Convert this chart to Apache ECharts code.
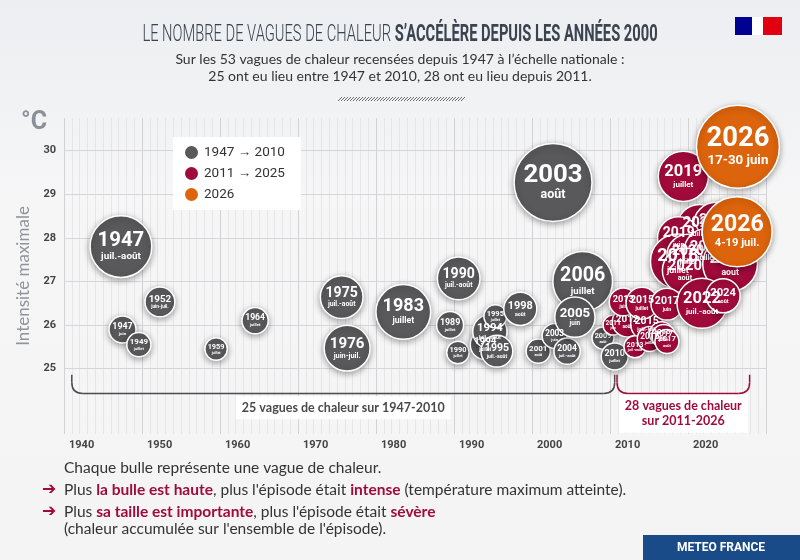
<!DOCTYPE html>
<html>
<head>
<meta charset="UTF-8">
<title>Vagues de chaleur</title>
<style type="text/css">
	* {
		margin: 0;
		padding: 0;
	}
	#chart {
		width: 800px;
		height: 560px;
	}
</style>
</head>
<body>
<div id="chart"></div>
<script src="https://cdn.jsdelivr.net/npm/echarts@6/dist/echarts.min.js"></script>
<script type="text/javascript">
	// graduations de l'axe des températures
	var yTicks = [25, 26, 27, 28, 29, 30];

	// vagues 1947 -> 2010
	var greyYear = ['1947', '1947', '1949', '1952', '1959', '1964', '1975', '1976', '1983', '1989', '1990', '1990', '1994', '1994', '1995', '1998', '1995', '2001', '2003', '2004', '2006', '2005', '2003', '2009', '2010'];
	var greyPeriod = ['juil.-août', 'juin', 'juillet', 'juin-juil.', 'juillet', 'juillet', 'juil.-août', 'juin-juil.', 'juillet', 'juillet', 'juil.-août', 'juillet', 'juillet', 'juil.-août', 'juillet', 'août', 'juil.-août', 'août', 'juin', 'juil.-août', 'juillet', 'juin', 'août', 'août', 'juillet'];
	var greyDate = [1947.3, 1947.5, 1949.6, 1952.3, 1959.5, 1964.5, 1975.6, 1976.3, 1983.5, 1989.5, 1990.6, 1990.5, 1994.0, 1994.6, 1995.3, 1998.5, 1995.5, 2000.8, 2002.9, 2004.5, 2006.5, 2005.5, 2002.7, 2009.1, 2010.6];
	var greyTemp = [27.8, 25.9, 25.55, 26.53, 25.45, 26.1, 26.64, 25.47, 26.3, 26.0, 27.07, 25.37, 25.55, 25.85, 26.2, 26.37, 25.4, 25.4, 25.75, 25.4, 27.0, 26.18, 29.27, 25.7, 25.28];
	var greySeverity = [47, 9, 7.2, 11, 6.2, 8.5, 22.5, 26, 37, 9, 22.5, 6.2, 11, 14.5, 6.5, 13.5, 12.5, 7.2, 7.7, 8.5, 44, 20, 75, 6, 9];

	// vagues 2011 -> 2025
	var redYear = ['2019', '2025', '2022', '2024', '2019', '2018', '2020', '2023', '2020', '2023', '2011', '2012', '2015', '2013', '2015', '2017', '2022', '2024', '2013', '2016', '2016', '2017', '2017'];
	var redPeriod = ['juillet', 'août', 'juillet', 'juillet', 'juin', 'juillet', 'juillet', 'juillet', 'août', 'aout', 'juin', 'août', 'juin-juil.', 'juin', 'juillet', 'juin', 'juil.-août', 'août', 'juil.-août', 'juillet', 'août', 'juillet', 'août'];
	var redDate = [2019.4, 2025.6, 2021.5, 2023.6, 2018.8, 2018.7, 2020.0, 2022.4, 2019.6, 2025.4, 2010.4, 2012.2, 2014.7, 2011.7, 2014.1, 2017.3, 2021.8, 2024.5, 2013.2, 2015.1, 2016.6, 2016.9, 2017.3];
	var redTemp = [29.41, 28.0, 28.25, 28.3, 28.0, 27.46, 27.6, 27.7, 27.25, 27.4, 26.0, 26.07, 26.02, 26.53, 26.5, 26.48, 26.5, 26.67, 25.5, 25.68, 25.8, 25.74, 25.62];
	var redSeverity = [31, 28, 25, 25, 22, 37, 22, 25, 25, 37, 5, 11, 12.6, 9.7, 12.6, 12.6, 31, 14.3, 6, 7.7, 7.1, 7.1, 7.1];

	// vagues 2026
	var orangeYear = ['2026', '2026'];
	var orangePeriod = ['17-30 juin', '4-19 juil.'];
	var orangeDate = [2026.4, 2026.3];
	var orangeTemp = [30.09, 28.14];
	var orangeSeverity = [85, 60.5];

	var groupNames = ['1947 → 2010', '2011 → 2025', '2026'];
	var groupColors = ['#59595b', '#a10b3c', '#dc640c'];

	var RED = '#a10b3c';

	function bubbleSize(sev) {
		return Math.sqrt(sev) * 9;
	}

	function buildItems(years, periods, dates, temps, sev) {
		var items = [];
		for(var i = 0; i < years.length; i++) {
			var d = bubbleSize(sev[i]);
			var fy = Math.max(4, d * 0.33);
			var fp = Math.max(3, d * 0.16);
			items.push({
				value: [dates[i], temps[i], sev[i]],
				symbolSize: d,
				label: {
					formatter: '{y|' + years[i] + '}\n{p|' + periods[i] + '}',
					rich: {
						y: {
							fontSize: fy,
							lineHeight: fy * 1.0,
							fontWeight: 'bold',
							color: '#fff',
							fontFamily: 'Roboto'
						},
						p: {
							fontSize: fp,
							lineHeight: fp * 1.15,
							fontWeight: 'bold',
							color: '#fff',
							fontFamily: 'Roboto'
						}
					}
				}
			});
		}
		return items;
	}

	function bubbleSeries(idx, items) {
		return {
			name: groupNames[idx],
			type: 'scatter',
			z: 2 + idx,
			data: items,
			itemStyle: {
				color: groupColors[idx],
				borderColor: '#fff',
				borderWidth: 1.5,
				shadowBlur: 6,
				shadowOffsetY: 2,
				shadowColor: 'rgba(0,0,0,0.35)',
				opacity: 1
			},
			label: {
				show: true,
				position: 'inside'
			},
			emphasis: {
				disabled: true
			}
		};
	}

	var chart = echarts.init(document.getElementById('chart'));

	chart.setOption({
		animation: false,
		backgroundColor: {
			type: 'linear',
			x: 0, y: 0, x2: 0, y2: 1,
			colorStops: [
				{offset: 0, color: '#eceef1'},
				{offset: 0.35, color: '#f6f6f7'},
				{offset: 1, color: '#f4f4f5'}
			]
		},
		grid: {
			left: 64,
			right: 34,
			top: 118,
			bottom: 126
		},
		legend: {
			data: groupNames,
			left: 173,
			top: 137,
			z: 20,
			orient: 'vertical',
			backgroundColor: '#fff',
			padding: [7, 16, 7, 10],
			itemGap: 4,
			itemWidth: 15,
			itemHeight: 15,
			icon: 'circle',
			selectedMode: false,
			textStyle: {
				fontSize: 13.5,
				color: '#333',
				fontFamily: 'Roboto'
			}
		},
		xAxis: {
			type: 'value',
			min: 1940,
			max: 2030,
			interval: 10,
			axisLine: {show: false},
			axisTick: {show: false},
			axisLabel: {
				align: 'left',
				padding: [0, 0, 0, 5],
				margin: 6,
				color: '#444',
				fontSize: 11,
				fontWeight: 'bold',
				fontFamily: 'Roboto',
				formatter: function(v) {
					return v < 2030 ? String(v) : '';
				}
			},
			splitLine: {
				show: true,
				lineStyle: {color: '#d2d2d4', width: 1}
			},
			minorTick: {show: false, splitNumber: 10},
			minorSplitLine: {
				show: true,
				lineStyle: {color: '#e6e6e8', width: 1}
			}
		},
		yAxis: {
			type: 'value',
			min: 23.5,
			max: 30.75,
			interval: 0.25,
			name: 'Intensité maximale',
			nameLocation: 'middle',
			nameGap: 31,
			nameTextStyle: {
				fontSize: 17,
				color: '#8e949a',
				fontFamily: 'Lato'
			},
			axisLine: {show: false},
			axisTick: {show: false},
			splitLine: {show: false},
			axisLabel: {
				margin: 8,
				color: '#444',
				fontSize: 11,
				fontWeight: 'bold',
				fontFamily: 'Roboto',
				formatter: function(v) {
					return yTicks.indexOf(v) >= 0 ? String(v) : '';
				}
			}
		},
		series: [
			{
				type: 'line',
				data: [],
				z: 1,
				silent: true,
				markLine: {
					z: 1,
					silent: true,
					symbol: ['none', 'none'],
					label: {show: false},
					lineStyle: {color: '#d6d6d8', type: 'solid', width: 1},
					data: yTicks.map(function(v) {
						return {yAxis: v};
					})
				}
			},
			bubbleSeries(0, buildItems(greyYear, greyPeriod, greyDate, greyTemp, greySeverity)),
			bubbleSeries(1, buildItems(redYear, redPeriod, redDate, redTemp, redSeverity)),
			bubbleSeries(2, buildItems(orangeYear, orangePeriod, orangeDate, orangeTemp, orangeSeverity))
		]
	});

	// accolades sous le graphique
	var brackets = [
		{from: 1941, to: 2010.6, color: '#4a4a4c', text: '25 vagues de chaleur sur 1947-2010'},
		{from: 2010.9, to: 2027.9, color: RED, text: '28 vagues de chaleur\nsur 2011-2026'}
	];
	var bracketTop = 24.86,
		bracketBottom = 24.43,
		bracketText = 24.1;

	var graphics = [];

	brackets.forEach(function(b) {
		var p1 = chart.convertToPixel({gridIndex: 0}, [b.from, bracketTop]);
		var p2 = chart.convertToPixel({gridIndex: 0}, [b.to, bracketBottom]);
		var pt = chart.convertToPixel({gridIndex: 0}, [(b.from + b.to) / 2, bracketText]);
		var r = 11;
		var ls = {stroke: b.color, lineWidth: 1.5, fill: null};
		graphics.push({type: 'line', shape: {x1: p1[0], y1: p1[1], x2: p1[0], y2: p2[1] - r}, style: ls, z: 10});
		graphics.push({type: 'bezierCurve', shape: {x1: p1[0], y1: p2[1] - r, cpx1: p1[0], cpy1: p2[1], x2: p1[0] + r, y2: p2[1]}, style: ls, z: 10});
		graphics.push({type: 'line', shape: {x1: p1[0] + r, y1: p2[1], x2: p2[0] - r, y2: p2[1]}, style: ls, z: 10});
		graphics.push({type: 'bezierCurve', shape: {x1: p2[0] - r, y1: p2[1], cpx1: p2[0], cpy1: p2[1], x2: p2[0], y2: p2[1] - r}, style: ls, z: 10});
		graphics.push({type: 'line', shape: {x1: p2[0], y1: p2[1] - r, x2: p2[0], y2: p1[1]}, style: ls, z: 10});
		graphics.push({
			type: 'text',
			x: pt[0],
			y: pt[1] + (b.text.indexOf('\n') >= 0 ? 6 : 0),
			z: 10,
			style: {
				text: b.text,
				align: 'center',
				verticalAlign: 'middle',
				fill: b.color,
				font: 'bold 12.5px Lato',
				lineHeight: 15,
				backgroundColor: '#fff',
				padding: [4, 6]
			}
		});
	});

	// titre
	graphics.push({
		type: 'text',
		x: 400,
		y: 35,
		scaleX: 0.7,
		scaleY: 1.12,
		style: {
			text: '{a|LE NOMBRE DE VAGUES DE CHALEUR }{b|S’ACCÉLÈRE DEPUIS LES ANNÉES 2000}',
			align: 'center',
			verticalAlign: 'middle',
			rich: {
				a: {fontSize: 21, fontFamily: 'Roboto', fontWeight: 300, fill: '#3a4350'},
				b: {fontSize: 21, fontFamily: 'Roboto', fontWeight: 'bold', fill: '#3a4350'}
			}
		}
	});
	graphics.push({
		type: 'text',
		x: 400,
		y: 68,
		style: {
			text: 'Sur les 53 vagues de chaleur recensées depuis 1947 à l’échelle nationale :\n25 ont eu lieu entre 1947 et 2010, 28 ont eu lieu depuis 2011.',
			align: 'center',
			verticalAlign: 'middle',
			font: '14px Lato',
			lineHeight: 17,
			fill: '#333'
		}
	});
	// petite ligne hachurée
	for(var h = 0; h < 124; h += 3) {
		graphics.push({
			type: 'line',
			shape: {x1: 338 + h, y1: 101, x2: 342 + h, y2: 97},
			style: {stroke: '#6a6a6a', lineWidth: 1}
		});
	}
	// logo
	graphics.push({type: 'rect', shape: {x: 735, y: 17, width: 17, height: 18}, style: {fill: '#000091'}});
	graphics.push({type: 'rect', shape: {x: 763, y: 17, width: 19, height: 18}, style: {fill: '#e1000f'}});
	graphics.push({type: 'rect', shape: {x: 752, y: 17, width: 11, height: 18}, style: {fill: '#fff'}});

	graphics.push({
		type: 'text',
		x: 21,
		y: 123,
		style: {text: '°C', font: 'bold 25px Roboto', fill: '#8a9097', verticalAlign: 'middle'}
	});

	// explications en bas
	var noteRich = {
		r: {fontWeight: 'bold', fill: RED, fontSize: 15.5, fontFamily: 'Lato'},
		n: {fill: '#333', fontSize: 15.5, fontFamily: 'Lato'}
	};
	var notes = [
		{y: 468, arrow: false, text: '{n|Chaque bulle représente une vague de chaleur.}'},
		{y: 490, arrow: true, text: '{n|Plus }{r|la bulle est haute}{n|, plus l\'épisode était }{r|intense}{n| (température maximum atteinte).}'},
		{y: 512, arrow: true, text: '{n|Plus }{r|sa taille est importante}{n|, plus l\'épisode était }{r|sévère}'},
		{y: 529, arrow: false, text: '{n|(chaleur accumulée sur l\'ensemble de l\'épisode).}'}
	];
	notes.forEach(function(n) {
		if(n.arrow) {
			graphics.push({
				type: 'text',
				x: 42,
				y: n.y,
				style: {text: '➔', font: 'bold 17px DejaVu Sans', fill: RED, verticalAlign: 'middle'}
			});
		}
		graphics.push({
			type: 'text',
			x: 64,
			y: n.y,
			style: {text: n.text, rich: noteRich, verticalAlign: 'middle'}
		});
	});

	graphics.push({type: 'rect', shape: {x: 643, y: 535, width: 157, height: 25}, style: {fill: '#184b88'}});
	graphics.push({
		type: 'text',
		x: 721,
		y: 548,
		style: {text: 'METEO FRANCE', font: 'bold 12px Roboto', fill: '#fff', align: 'center', verticalAlign: 'middle'}
	});

	chart.setOption({graphic: graphics});
</script>
</body>
</html>
